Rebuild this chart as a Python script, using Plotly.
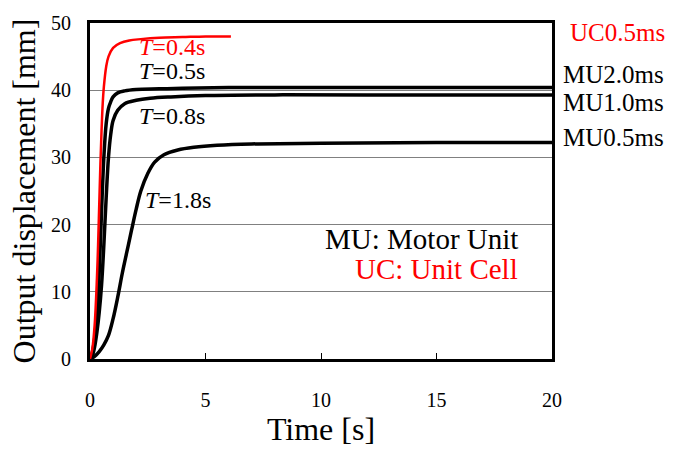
import plotly.graph_objects as go

# Step responses of output displacement [mm] vs time [s]
uc05_t = [0, 0.1, 0.2, 0.3, 0.35, 0.4, 0.45, 0.5, 0.55, 0.6, 0.7, 0.8, 1.0, 1.3, 1.7, 2.2, 3.0, 4.0, 5.0, 6.1]
uc05_y = [0, 1.5, 5, 12, 17, 23, 29, 34, 38, 40.5, 43.5, 45, 46.3, 47, 47.4, 47.6, 47.8, 47.9, 48, 48]

mu20_t = [0, 0.1, 0.2, 0.3, 0.4, 0.5, 0.6, 0.7, 0.8, 0.9, 1.0, 1.2, 1.5, 2.0, 3.0, 4.0, 6.0, 10.0, 15.0, 20.0]
mu20_y = [0, 1, 3, 7, 13, 22, 30, 35, 37.3, 38.3, 39, 39.6, 39.9, 40.1, 40.2, 40.3, 40.4, 40.4, 40.4, 40.4]

mu10_t = [0, 0.1, 0.2, 0.3, 0.4, 0.5, 0.6, 0.7, 0.8, 0.9, 1.0, 1.2, 1.5, 2.0, 2.6, 3.5, 5.0, 8.0, 12.0, 20.0]
mu10_y = [0, 0.5, 1.8, 4, 7, 11, 17, 24, 30, 33.5, 35.5, 37, 38, 38.5, 38.8, 39, 39.2, 39.3, 39.3, 39.3]

mu05_t = [0, 0.2, 0.4, 0.6, 0.8, 1.0, 1.2, 1.4, 1.6, 1.8, 2.0, 2.2, 2.5, 2.8, 3.2, 3.8, 4.5, 5.5, 7.0, 10.0, 15.0, 20.0]
mu05_y = [0, 0.4, 1.1, 2.1, 3.5, 6, 9.2, 12.8, 16, 19.2, 22.3, 25, 27.6, 29.3, 30.4, 31.1, 31.5, 31.8, 32, 32.1, 32.2, 32.2]

x_ticks = [0, 5, 10, 15, 20]
y_ticks = [0, 10, 20, 30, 40, 50]

FONT = "Liberation Serif"
RED = "#ff0000"

fig = go.Figure()
fig.add_trace(go.Scatter(x=mu05_t, y=mu05_y, mode="lines", line=dict(color="black", width=3.5, shape="spline")))
fig.add_trace(go.Scatter(x=mu10_t, y=mu10_y, mode="lines", line=dict(color="black", width=3.5, shape="spline")))
fig.add_trace(go.Scatter(x=mu20_t, y=mu20_y, mode="lines", line=dict(color="black", width=3.5, shape="spline")))
fig.add_trace(go.Scatter(x=uc05_t, y=uc05_y, mode="lines", line=dict(color=RED, width=2.5, shape="spline")))

ann = []
# Time-constant labels inside the plot
for txt, x, y, col in [
    ("<i>T</i>=0.4s", 2.03, 46.4, RED),
    ("<i>T</i>=0.5s", 2.03, 42.9, "black"),
    ("<i>T</i>=0.8s", 2.03, 36.1, "black"),
    ("<i>T</i>=1.8s", 2.29, 23.6, "black"),
]:
    ann.append(dict(text=txt, x=x, y=y, xref="x", yref="y", xanchor="left", yanchor="middle",
                    showarrow=False, font=dict(family=FONT, size=24, color=col)))

# Series labels to the right of the frame
for txt, xp, y, col in [
    ("UC0.5ms", 1.035, 48.6, RED),
    ("MU2.0ms", 1.019, 42.4, "black"),
    ("MU1.0ms", 1.019, 38.1, "black"),
    ("MU0.5ms", 1.019, 33.0, "black"),
]:
    ann.append(dict(text=txt, x=xp, y=y, xref="paper", yref="y", xanchor="left", yanchor="middle",
                    showarrow=False, font=dict(family=FONT, size=25, color=col)))

# Abbreviation key
ann.append(dict(text="MU: Motor Unit", x=18.6, y=17.8, xref="x", yref="y", xanchor="right", yanchor="middle",
                showarrow=False, font=dict(family=FONT, size=29, color="black")))
ann.append(dict(text="UC: Unit Cell", x=18.6, y=13.4, xref="x", yref="y", xanchor="right", yanchor="middle",
                showarrow=False, font=dict(family=FONT, size=29, color=RED)))

fig.update_layout(
    width=676, height=452,
    margin=dict(l=90, r=124, t=18, b=93),
    paper_bgcolor="white", plot_bgcolor="white",
    showlegend=False,
    font=dict(family=FONT, color="black"),
    annotations=ann,
)
fig.update_xaxes(
    range=[0, 20], tickvals=x_ticks, ticktext=[str(v) for v in x_ticks],
    showgrid=False, zeroline=False,
    showline=True, mirror=True, linecolor="black", linewidth=3,
    ticks="inside", ticklen=6, tickwidth=1, tickcolor="black",
    tickfont=dict(family=FONT, size=20), ticklabelstandoff=21,
    title=dict(text="Time [s]", font=dict(family=FONT, size=32), standoff=4),
)
fig.update_yaxes(
    range=[0, 50], tickvals=y_ticks, ticktext=[str(v) for v in y_ticks],
    showgrid=True, gridcolor="#808080", gridwidth=1, zeroline=False,
    showline=True, mirror=True, linecolor="black", linewidth=3,
    ticks="", tickfont=dict(family=FONT, size=20), ticklabelstandoff=12,
    title=dict(text="Output displacement [mm]", font=dict(family=FONT, size=32), standoff=6),
)

fig.write_html("out.html")
